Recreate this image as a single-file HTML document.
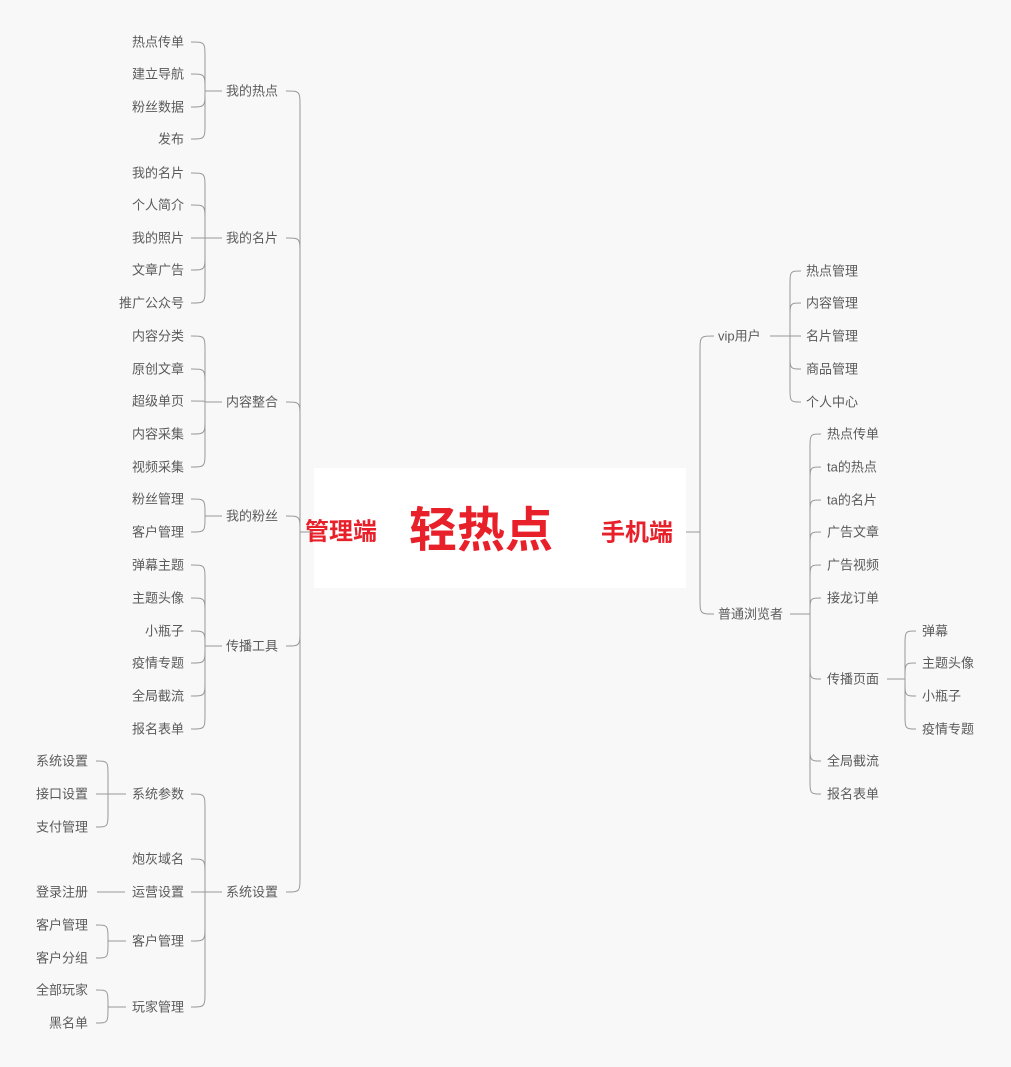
<!DOCTYPE html>
<html><head><meta charset="utf-8"><style>
html,body{margin:0;padding:0;background:#f8f8f8;}
svg{display:block;}
text{font-family:"Liberation Sans","Noto Sans CJK SC",sans-serif;font-size:13px;fill:#5a5a5a;dominant-baseline:central;}
.red{fill:#e8202a;font-weight:bold;}
path{fill:none;stroke:#999;stroke-width:1;}
</style></head><body>
<svg id="s" width="1011" height="1067" viewBox="0 0 1011 1067" xmlns="http://www.w3.org/2000/svg">
<rect x="314" y="468" width="372" height="120" fill="#fff"/>
<text class="red" x="341" y="532" text-anchor="middle" style="font-size:24px">管理端</text>
<text class="red" x="481" y="531" text-anchor="middle" style="font-size:48px">轻热点</text>
<text class="red" x="637" y="533" text-anchor="middle" style="font-size:24px">手机端</text>
</svg>
<script>
var s=document.getElementById('s'),NS='http://www.w3.org/2000/svg';
function P(d){var p=document.createElementNS(NS,'path');p.setAttribute('d',d);s.appendChild(p);}
function T(x,y,t,a){var e=document.createElementNS(NS,'text');e.setAttribute('x',x);e.setAttribute('y',y);if(a)e.setAttribute('text-anchor',a);e.textContent=t;s.appendChild(e);}
function B(pa,py,sx,cx,ys){
  P('M'+pa+' '+py+' L'+sx+' '+py);
  ys.forEach(function(y){
    var dy=y-py,sg=dy>0?1:-1,r=Math.min(16,Math.abs(dy));
    if(Math.abs(dy)<1){P('M'+sx+' '+py+' L'+cx+' '+y);return;}
    P('M'+cx+' '+y+' C'+sx+' '+y+' '+sx+' '+y+' '+sx+' '+(y-sg*r)+' L'+sx+' '+py);
  });
}
function L(items,x,a){items.forEach(function(it){T(x,it[1],it[0],a);});}
var main=[['我的热点',91],['我的名片',238],['内容整合',402],['我的粉丝',516],['传播工具',646],['系统设置',892]];
B(312,532,300,286,main.map(function(m){return m[1];}));
L(main,226);
var groups=[
 [91,[['热点传单',42],['建立导航',74],['粉丝数据',107],['发布',139]]],
 [238,[['我的名片',173],['个人简介',205],['我的照片',238],['文章广告',270],['推广公众号',303]]],
 [402,[['内容分类',336],['原创文章',369],['超级单页',401],['内容采集',434],['视频采集',467]]],
 [516,[['粉丝管理',499],['客户管理',532]]],
 [646,[['弹幕主题',565],['主题头像',598],['小瓶子',631],['疫情专题',663],['全局截流',696],['报名表单',729]]],
 [892,[['系统参数',794],['炮灰域名',859],['运营设置',892],['客户管理',941],['玩家管理',1007]]]
];
groups.forEach(function(g){B(222,g[0],205,191,g[1].map(function(c){return c[1];}));L(g[1],184,'end');});
var sub=[[794,[['系统设置',761],['接口设置',794],['支付管理',827]]],[941,[['客户管理',925],['客户分组',958]]],[1007,[['全部玩家',990],['黑名单',1023]]]];
sub.forEach(function(g){B(126,g[0],108,96,g[1].map(function(c){return c[1];}));L(g[1],88,'end');});
P('M97 892 L125 892');T(88,892,'登录注册','end');
B(686,532,700,714,[336,614]);
T(718,336,'vip用户');T(718,614,'普通浏览者');
var vip=[['热点管理',271],['内容管理',303],['名片管理',336],['商品管理',369],['个人中心',402]];
B(770,336,790,801,vip.map(function(c){return c[1];}));L(vip,806);
var pt=[['热点传单',434],['ta的热点',467],['ta的名片',500],['广告文章',532],['广告视频',565],['接龙订单',598],['传播页面',679],['全局截流',761],['报名表单',794]];
B(790,614,810,821,pt.map(function(c){return c[1];}));L(pt,827);
var cb=[['弹幕',631],['主题头像',663],['小瓶子',696],['疫情专题',729]];
B(887,679,905,916,cb.map(function(c){return c[1];}));L(cb,922);
</script>
</body></html>
